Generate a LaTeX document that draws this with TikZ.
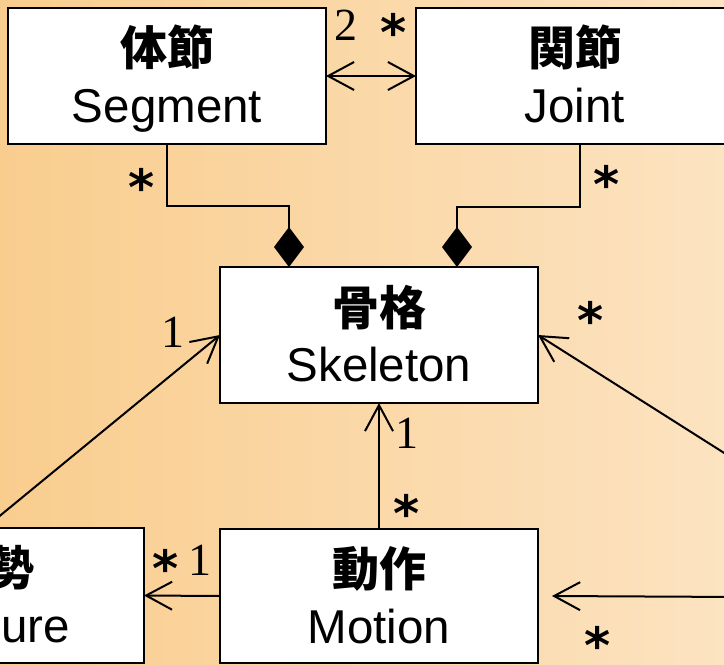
\documentclass[tikz,border=0pt]{standalone}
\usepackage{fontspec}
\setmainfont{Liberation Sans}
\newfontfamily\jpf{Noto Sans CJK JP}
\newfontfamily\serf{Liberation Serif}
\newfontfamily\dvs{DejaVu Sans}
\usetikzlibrary{arrows.meta}
\definecolor{bgL}{RGB}{249,205,142}
\definecolor{bgR}{RGB}{252,227,193}
\begin{document}
\begin{tikzpicture}[x=1pt,y=-1pt,
  box/.style={draw=black,fill=white,line width=2pt,minimum width=318pt,minimum height=136pt,inner sep=0pt,outer sep=0pt},
  jpt/.style={font=\jpf\bfseries\fontsize{47}{50}\selectfont,anchor=base,inner sep=0pt},
  ent/.style={font=\fontsize{47.5}{50}\selectfont,anchor=base,inner sep=0pt},
  num/.style={font=\serf\fontsize{46}{50}\selectfont,anchor=base,inner sep=0pt},
  ast/.style={font=\dvs\bfseries\fontsize{50}{50}\selectfont,anchor=base,inner sep=0pt},
  conn/.style={line width=2pt},
  nav/.style={conn,-{Straight Barb[length=26pt,width=28pt]}},
  nav2/.style={conn,{Straight Barb[length=26pt,width=28pt]}-{Straight Barb[length=26pt,width=28pt]}},
  comp/.style={conn,-{Diamond[length=40pt,width=30pt]}},
]
\useasboundingbox (0,0) rectangle (724,665);
\clip (0,0) rectangle (724,665);
\shade[left color=bgL,right color=bgR] (0,0) rectangle (724,665);

% boxes
\node[box] (seg) at (167,76) {};
\node[box] (joint) at (575,76) {};
\node[box] (skel) at (379,335) {};
\node[box,minimum height=134pt] (motion) at (379,596) {};
\node[box,minimum height=135pt] (posture) at (-15,595.5) {};

% box texts
\node[jpt] (segJ) at (167,65) {体節};
\node[ent] (segE) at (167,122) {Segment};
\node[jpt] (jointJ) at (575,65) {関節};
\node[ent] (jointE) at (575,122) {Joint};
\node[jpt] (skelJ) at (379,325) {骨格};
\node[ent] (skelE) at (379,381) {Skeleton};
\node[jpt] (motionJ) at (379,586) {動作};
\node[ent] (motionE) at (379,643) {Motion};
\node[jpt] (postureJ) at (-12,585) {姿勢};
\node[ent] (postureE) at (-12,642) {Posture};

% free ends of connectors from nodes outside the picture
\coordinate (offA) at (740,463);
\coordinate (offB) at (740,597);

% connectors
\draw[nav2] (seg.east) -- (joint.west);
\draw[comp] (seg.south) -- ++(0,62) -| ([xshift=69pt]skel.north west);
\draw[comp] ([xshift=5pt]joint.south) -- ++(0,63) -| ([xshift=-81pt]skel.north east);
\draw[nav] (posture.north) -- (skel.west);
\draw[nav] (offA) -- (skel.east);
\draw[nav] (motion.north) -- (skel.south);
\draw[nav] (motion.west) -- (posture.east);
\draw[nav] (offB) -- ([xshift=14pt]motion.east);

% multiplicities
\node[num] (m1) at (346,40) {2};
\node[ast] (m2) at (394,50) {*};
\node[ast] (m3) at (142,205) {*};
\node[ast] (m4) at (607,202) {*};
\node[num] (m5) at (173,347) {1};
\node[ast] (m6) at (591,338) {*};
\node[num] (m7) at (407,448) {1};
\node[ast] (m8) at (407,531) {*};
\node[ast] (m9) at (166,586) {*};
\node[num] (m10) at (200,575) {1};
\node[ast] (m11) at (598,663) {*};
\end{tikzpicture}
\end{document}
